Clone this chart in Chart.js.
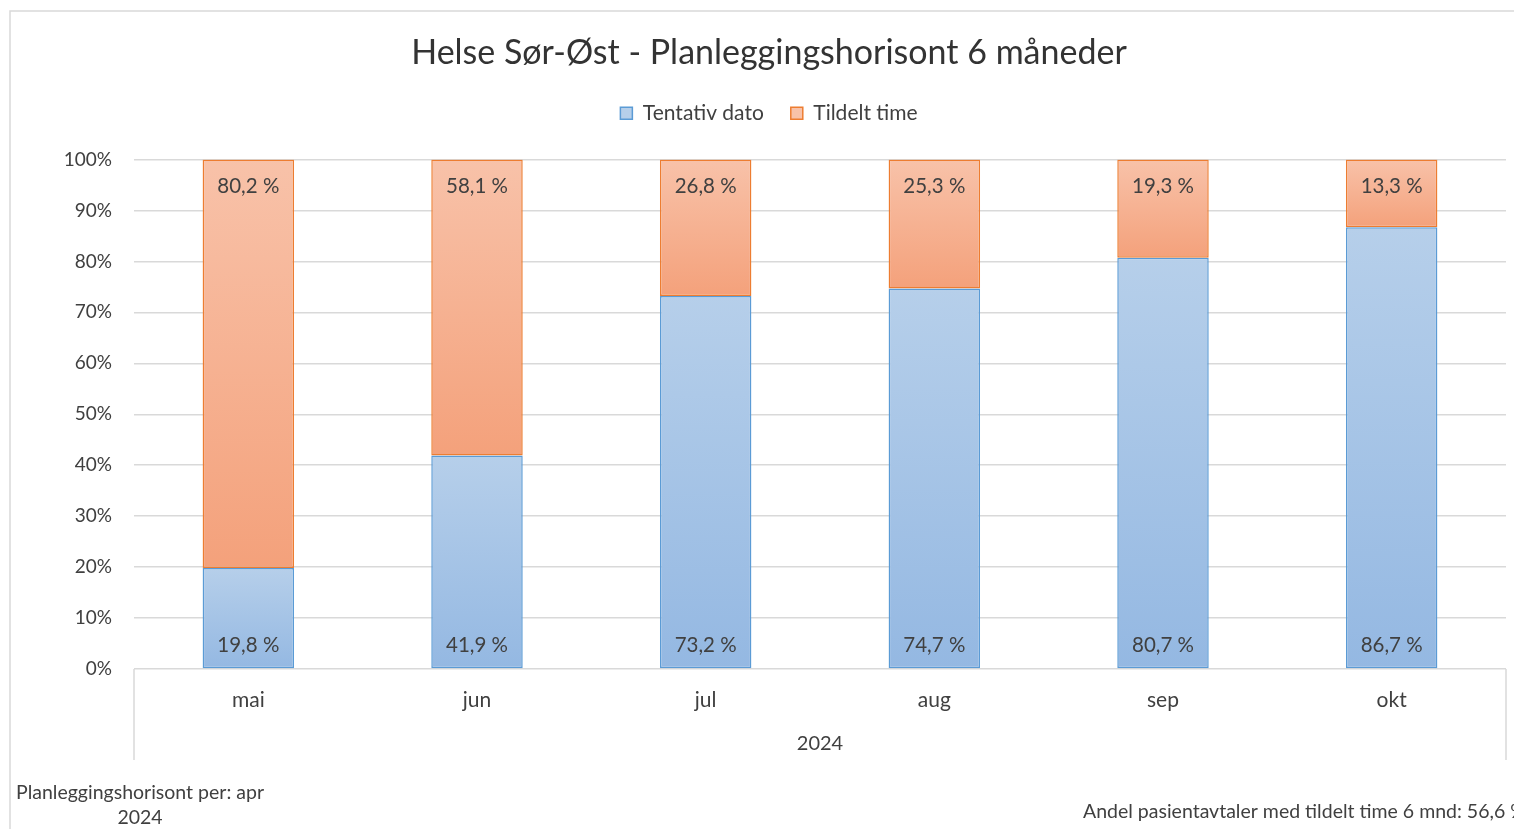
<!DOCTYPE html>
<html>
<head>
<meta charset="utf-8">
<script src="https://cdn.jsdelivr.net/npm/chart.js@4/dist/chart.umd.min.js"></script>
<style>
html,body{margin:0;padding:0;background:#fff;}
#wrap{width:1514px;height:829px;position:relative;}
</style>
</head>
<body>
<div id="wrap"><canvas id="c" width="1514" height="829"></canvas></div>
<script>
const categories = ['mai', 'jun', 'jul', 'aug', 'sep', 'okt'];
const groupLabel = '2024';
const tentativ = [19.8, 41.9, 73.2, 74.7, 80.7, 86.7];
const tildelt = [80.2, 58.1, 26.8, 25.3, 19.3, 13.3];
const seriesNames = ['Tentativ dato', 'Tildelt time'];
const titleText = 'Helse Sør-Øst - Planleggingshorisont 6 måneder';
const noteLeft = ['Planleggingshorisont per: apr', '2024'];
const noteRight = 'Andel pasientavtaler med tildelt time 6 mnd: 56,6 %';

const FONT = 'Lato, Carlito, Calibri, "Open Sans", sans-serif';
const seriesData = [tentativ, tildelt];
const gradStops = [
  ['#b6cfea', '#94b8e2'],
  ['#f8c2a9', '#f4a17b']
];
const solid = ['#a5c3e6', '#f6b192'];

function fmt(v) { return v.toFixed(1).replace('.', ',') + ' %'; }

function segBg(ctx) {
  const chart = ctx.chart;
  const ds = ctx.datasetIndex;
  if (ctx.dataIndex === undefined || !chart.chartArea || !chart.scales.y) return solid[ds];
  const i = ctx.dataIndex;
  let start = 0;
  for (let k = 0; k < ds; k++) start += seriesData[k][i];
  const end = start + seriesData[ds][i];
  const y = chart.scales.y;
  const top = y.getPixelForValue(end), bot = y.getPixelForValue(start);
  if (!isFinite(top) || !isFinite(bot) || top === bot) return solid[ds];
  const g = chart.ctx.createLinearGradient(0, top, 0, bot);
  g.addColorStop(0, gradStops[ds][0]);
  g.addColorStop(1, gradStops[ds][1]);
  return g;
}

const decor = {
  id: 'decor',
  beforeDraw(chart) {
    const c = chart.ctx;
    c.save();
    c.strokeStyle = '#d9d9d9';
    c.lineWidth = 1.5;
    c.strokeRect(10, 11, 1600, 900);
    c.restore();
  },
  afterDraw(chart) {
    const c = chart.ctx;
    const x = chart.scales.x;
    c.save();
    c.strokeStyle = '#d9d9d9';
    c.lineWidth = 1.5;
    c.beginPath();
    c.moveTo(x.left, x.top); c.lineTo(x.left, x.bottom);
    c.moveTo(x.right, x.top); c.lineTo(x.right, x.bottom);
    c.stroke();
    c.fillStyle = '#404040';
    c.font = '19.5px ' + FONT;
    c.textAlign = 'center';
    c.textBaseline = 'middle';
    c.fillText(noteLeft[0], 140, 793);
    c.fillText(noteLeft[1], 140, 818);
    c.textAlign = 'left';
    c.fillText(noteRight, 1083, 812);
    c.restore();
  },
  afterDatasetsDraw(chart) {
    const c = chart.ctx;
    c.save();
    c.fillStyle = '#404040';
    c.font = '20.5px ' + FONT;
    c.textAlign = 'center';
    c.textBaseline = 'middle';
    chart.data.datasets.forEach((ds, di) => {
      const meta = chart.getDatasetMeta(di);
      meta.data.forEach((el, i) => {
        const v = ds.data[i];
        const yy = di === 0 ? el.base - 23 : el.y + 27;
        c.fillText(fmt(v), el.x, yy);
      });
    });
    c.restore();
  }
};

new Chart(document.getElementById('c'), {
  type: 'bar',
  data: {
    labels: categories,
    datasets: [
      { label: seriesNames[0], data: tentativ, backgroundColor: segBg, borderColor: '#5b9bd5', borderWidth: 1.5, borderSkipped: false },
      { label: seriesNames[1], data: tildelt, backgroundColor: segBg, borderColor: '#ed7d31', borderWidth: 1.5, borderSkipped: false }
    ]
  },
  options: {
    responsive: false,
    animation: false,
    layout: { padding: { left: 32, right: 8, top: 0, bottom: 69 } },
    datasets: { bar: { categoryPercentage: 1, barPercentage: 0.4 } },
    plugins: {
      title: {
        display: true, text: titleText, color: '#333333',
        font: { family: FONT, size: 34, weight: 'normal', lineHeight: 1.2 },
        padding: { top: 33, bottom: 2 }
      },
      subtitle: {
        display: true, text: '', weight: 500,
        font: { size: 1, lineHeight: 1 },
        padding: { top: 24.7, bottom: 0 }
      },
      legend: {
        display: true, position: 'top',
        labels: {
          color: '#404040', boxWidth: 12, boxHeight: 12, padding: 27,
          font: { family: FONT, size: 21 }
        }
      },
      tooltip: { enabled: false }
    },
    scales: {
      x: {
        stacked: true,
        grid: { display: false },
        border: { display: false },
        ticks: { color: '#404040', font: { family: FONT, size: 21 }, padding: 11 },
        title: { display: true, text: groupLabel, color: '#404040', font: { family: FONT, size: 20, lineHeight: 1.2 }, padding: { top: 0, bottom: 4 } },
        afterFit(s) { s.height = 91; }
      },
      y: {
        stacked: true, min: 0, max: 100,
        grid: { color: '#d9d9d9', lineWidth: 1.5, drawTicks: false },
        border: { display: false },
        ticks: { stepSize: 10, color: '#404040', padding: 22, font: { family: FONT, size: 19 }, callback: v => v + '%' },
        afterFit(s) { s.width = 102; }
      }
    }
  },
  plugins: [decor]
});
</script>
</body>
</html>
